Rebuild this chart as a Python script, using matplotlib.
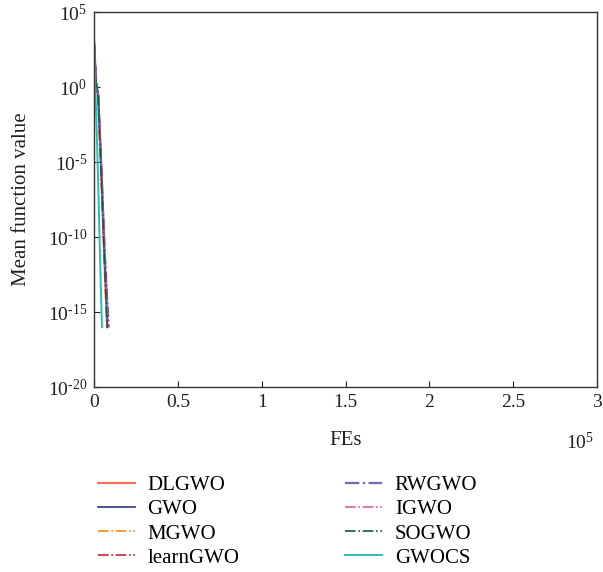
import numpy as np
import matplotlib
matplotlib.use("Agg")
import matplotlib.pyplot as plt

plt.rcParams["font.family"] = ["Liberation Serif", "DejaVu Serif"]
plt.rcParams["mathtext.fontset"] = "custom"
plt.rcParams["mathtext.rm"] = "Liberation Serif"
plt.rcParams["mathtext.default"] = "regular"

# ---------------------------------------------------------------------------
# Data (FEs vs mean function value)
# ---------------------------------------------------------------------------
labels = ["DLGWO", "GWO", "MGWO", "learnGWO",
          "RWGWO", "IGWO", "SOGWO", "GWOCS"]

fes = {
    "DLGWO":    [0, 1200, 2400, 4000, 6000, 7800],
    "GWO":      [0, 1200, 2500, 4200, 6200, 8000],
    "MGWO":     [0, 1200, 2400, 4000, 6000, 7600],
    "learnGWO": [0, 1200, 2500, 4300, 6500, 8800],
    "RWGWO":    [0, 1200, 2500, 4200, 6300, 8400],
    "IGWO":     [0, 1200, 2400, 4100, 6100, 8000],
    "SOGWO":    [0, 1200, 2400, 4000, 6000, 7800],
    "GWOCS":    [0, 800, 1600, 2600, 3700, 4700],
}
mean_val = {
    "DLGWO":    [1e3, 2e0, 2e-1, 1e-5, 1e-11, 1e-16],
    "GWO":      [1e3, 2e0, 3e-1, 1e-5, 1e-11, 1e-16],
    "MGWO":     [1e3, 2e0, 2e-1, 1e-5, 1e-11, 1e-16],
    "learnGWO": [1e3, 2e0, 3e-1, 1e-5, 1e-11, 1e-16],
    "RWGWO":    [1e3, 2e0, 3e-1, 1e-5, 1e-11, 1e-16],
    "IGWO":     [1e3, 2e0, 2e-1, 1e-5, 1e-11, 1e-16],
    "SOGWO":    [1e3, 2e0, 2e-1, 1e-5, 1e-11, 1e-16],
    "GWOCS":    [2e3, 5e-1, 1e-3, 1e-7, 1e-12, 1e-16],
}

styles = {
    "DLGWO":    dict(color="#F4715A", ls="-",  lw=1.6),
    "GWO":      dict(color="#27338A", ls="-",  lw=1.2),
    "MGWO":     dict(color="#F78A1E", ls="-.", lw=1.2),
    "learnGWO": dict(color="#C4213F", ls="-.", lw=1.2),
    "RWGWO":    dict(color="#7166B8", ls="-.", lw=1.6),
    "IGWO":     dict(color="#DD5CA8", ls="-.", lw=1.2),
    "SOGWO":    dict(color="#14583F", ls="-.", lw=1.2),
    "GWOCS":    dict(color="#2EBBB3", ls="-",  lw=1.4),
}

x_ticks = [0, 0.5e5, 1e5, 1.5e5, 2e5, 2.5e5, 3e5]
x_tick_labels = ["0", "0.5", "1", "1.5", "2", "2.5", "3"]
y_ticks = [1e5, 1e0, 1e-5, 1e-10, 1e-15, 1e-20]
y_tick_labels = ["$10^{5}$", "$10^{0}$", "$10^{\\text{-}5}$",
                 "$10^{\\text{-}10}$", "$10^{\\text{-}15}$", "$10^{\\text{-}20}$"]

# ---------------------------------------------------------------------------
# Figure
# ---------------------------------------------------------------------------
fig = plt.figure(figsize=(6.03, 5.72), dpi=100)
ax = fig.add_axes([0.156, 0.323, 0.834, 0.656])

handles = []
for name in labels:
    h, = ax.plot(fes[name], mean_val[name], label=name, **styles[name])
    handles.append(h)

ax.set_yscale("log")
ax.set_xlim(0, 3e5)
ax.set_ylim(1e-20, 1e5)
ax.set_xticks(x_ticks)
ax.set_xticklabels(x_tick_labels)
ax.set_yticks(y_ticks)
ax.set_yticklabels(y_tick_labels)
ax.yaxis.set_minor_locator(matplotlib.ticker.NullLocator())
ax.tick_params(direction="in", length=4, width=0.8, labelsize=14,
               colors="#222222", top=False, right=False)
ax.tick_params(axis="x", pad=5)
ax.tick_params(axis="y", pad=5)
for sp in ax.spines.values():
    sp.set_color("#333333")
    sp.set_linewidth(1.0)

ax.set_xlabel("FEs", fontsize=15, labelpad=14, color="#222222")
ax.set_ylabel("Mean function value", fontsize=15, labelpad=12, color="#222222")
ax.text(0.995, -0.12, "$10^{5}$", transform=ax.transAxes,
        ha="right", va="top", fontsize=14, color="#222222")

# legend in two columns below the axes
fig.legend(handles, labels,
           ncol=2, loc="upper left", bbox_to_anchor=(0.148, 0.183),
           frameon=False, fontsize=15, handlelength=1.8,
           columnspacing=5.05, labelspacing=0.22, handletextpad=0.6,
           borderaxespad=0.0)

fig.savefig("out.png", dpi=100)
